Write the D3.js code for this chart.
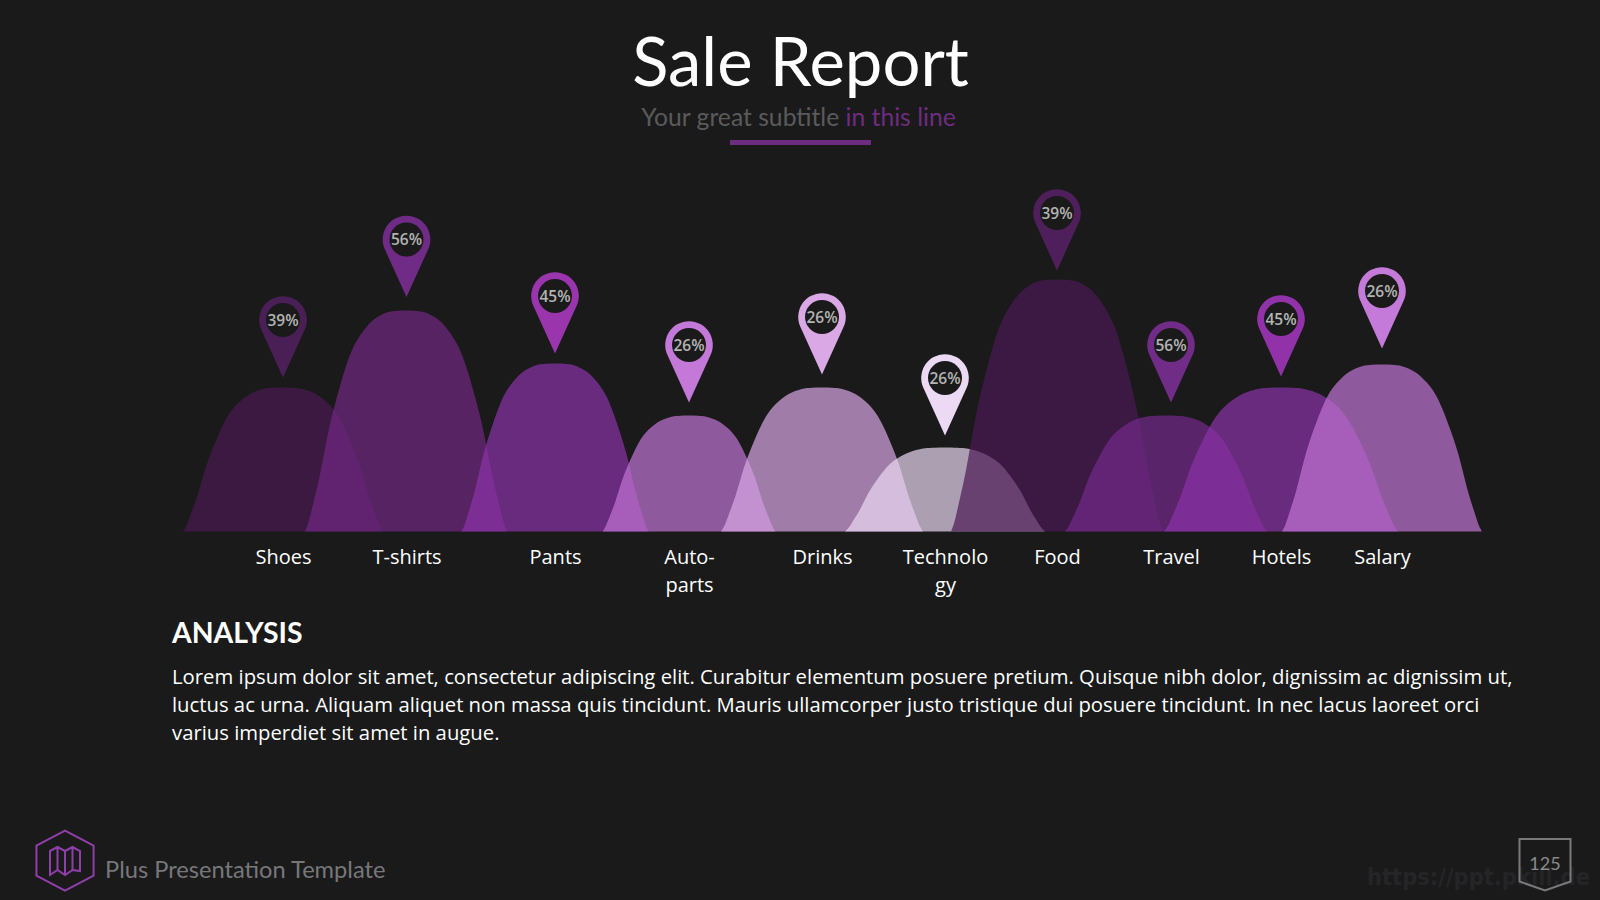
<!DOCTYPE html>
<html>
<head>
<meta charset="utf-8">
<script src="https://cdn.jsdelivr.net/npm/d3@7"></script>
<style>
  html, body { margin: 0; padding: 0; background: #1a1a1a; }
  svg { display: block; }
</style>
</head>
<body>
<svg id="slide" width="1600" height="900"></svg>
<script>
// Sales categories, left to right
const categories = ["Shoes", "T-shirts", "Pants", "Auto-parts", "Drinks", "Technology", "Food", "Travel", "Hotels", "Salary"];
const categoryLines = [["Shoes"], ["T-shirts"], ["Pants"], ["Auto-", "parts"], ["Drinks"], ["Technolo", "gy"], ["Food"], ["Travel"], ["Hotels"], ["Salary"]];

// Hump height, hump centre and half-width, in chart units
const humpHeights = [144, 221, 168, 116, 144, 84, 252, 116, 144, 167];
const humpCenters = [100, 223, 372, 506, 639, 762, 874, 983, 1098, 1199];
const humpSpreads = [100, 101, 93.5, 86.5, 101, 100, 106, 101, 117, 100];
const humpColors = ["#4a1a53", "#722883", "#8c33a9", "#c275d6", "#d9a8e5", "#ecd9f3", "#4a1a56", "#752a8b", "#8c33a9", "#c275d6"];

// Marker position (column centre) and the height of each marker's tip
const markerCenters = [100, 223.5, 372, 506, 639, 762, 874, 988, 1098, 1199];
const markerTips = [154, 234.5, 178, 129, 157, 96, 261, 129, 155, 183];
const markerLabels = ["39%", "56%", "45%", "26%", "26%", "26%", "39%", "56%", "45%", "26%"];
const markerColors = ["#4a1f56", "#6f2b85", "#9a35ae", "#c478d8", "#d9a8e5", "#ecd9f3", "#4e1f5b", "#702c86", "#9232a8", "#c47ad8"];

// Normalised outline of one hump: distance from centre vs. share of height
const humpProfileX = [-1, -0.97, -0.93, -0.86, -0.76, -0.68, -0.6, -0.54, -0.45, -0.33, -0.2, -0.1, 0, 0.1, 0.2, 0.33, 0.45, 0.54, 0.6, 0.68, 0.76, 0.86, 0.93, 0.97, 1];
const humpProfileY = [0, 0.035, 0.105, 0.24, 0.47, 0.615, 0.74, 0.815, 0.89, 0.955, 0.99, 0.998, 1, 0.998, 0.99, 0.955, 0.89, 0.815, 0.74, 0.615, 0.47, 0.24, 0.105, 0.035, 0];

const bodyLines = [
  "Lorem ipsum dolor sit amet, consectetur adipiscing elit. Curabitur elementum posuere pretium. Quisque nibh dolor, dignissim ac dignissim ut,",
  "luctus ac urna. Aliquam aliquet non massa quis tincidunt. Mauris ullamcorper justo tristique dui posuere tincidunt. In nec lacus laoreet orci",
  "varius imperdiet sit amet in augue."
];

const svg = d3.select("#slide");
const sans = "Lato, 'Open Sans', sans-serif";
const labelFont = "'Open Sans', 'Noto Sans', sans-serif";

svg.append("rect").attr("width", 1600).attr("height", 900).attr("fill", "#1a1a1a");

// Header
svg.append("text").attr("x", 800.5).attr("y", 86).attr("text-anchor", "middle")
  .attr("font-family", sans).attr("font-size", 67).attr("fill", "#ffffff").text("Sale Report");
const sub = svg.append("text").attr("x", 798.5).attr("y", 125.5).attr("text-anchor", "middle")
  .attr("font-family", sans).attr("font-size", 24.7);
sub.append("tspan").attr("fill", "#5a5a5c").text("Your great subtitle ");
sub.append("tspan").attr("fill", "#6e2c80").text("in this line");
svg.append("rect").attr("x", 730).attr("y", 140).attr("width", 141).attr("height", 5).attr("fill", "#6e2c80");

// Chart scales
const x = d3.scaleLinear().domain([0, 1300]).range([183, 1483]);
const y = d3.scaleLinear().domain([0, 252]).range([531.5, 279.5]);

// Humps, drawn left to right so later ones sit on top
const profile = d3.range(humpProfileX.length);
const hump = (i) => d3.area()
  .x(k => x(humpCenters[i] + humpProfileX[k] * humpSpreads[i]))
  .y0(y(0))
  .y1(k => y(humpHeights[i] * humpProfileY[k]))
  .curve(d3.curveCatmullRom.alpha(0.5))(profile);

svg.append("g").selectAll("path").data(categories).join("path")
  .attr("d", (d, i) => hump(i))
  .attr("fill", (d, i) => humpColors[i])
  .attr("fill-opacity", 0.7);

// Category axis with wrapped labels
const axis = svg.append("g").attr("transform", `translate(0,${y(0)})`)
  .call(d3.axisBottom(x).tickValues(markerCenters).tickSize(0).tickFormat(""));
axis.select(".domain").remove();
axis.selectAll(".tick text").attr("y", 0).attr("dy", 0)
  .attr("font-family", labelFont).attr("font-size", 20).attr("fill", "#ffffff")
  .each(function (d, i) {
    d3.select(this).selectAll("tspan").data(categoryLines[i]).join("tspan")
      .attr("x", 0).attr("y", (t, j) => 32.5 + j * 28).text(t => t);
  });

// Map-pin markers: head ring plus tapered point, with a dark hole for the label
const headRadius = 23.8, holeRadius = 17, tipDrop = 57.5;
const pin = svg.append("g").selectAll("g").data(categories).join("g")
  .attr("transform", (d, i) => `translate(${x(markerCenters[i])},${y(markerTips[i]) - tipDrop})`);
pin.append("path")
  .attr("d", () => {
    const r = headRadius, a = Math.asin(r / tipDrop);
    const tx = r * Math.cos(a), ty = r * Math.sin(a);
    return `M0,${tipDrop}L${-tx},${ty}A${r},${r} 0 1 1 ${tx},${ty}Z`;
  })
  .attr("fill", (d, i) => markerColors[i]);
pin.append("circle").attr("r", holeRadius).attr("fill", "#1a1a1a");
pin.append("text").attr("text-anchor", "middle").attr("y", 5.5)
  .attr("font-family", "'Open Sans', sans-serif").attr("font-weight", 600).attr("font-size", 15.5)
  .attr("fill", "#b4b4b4").text((d, i) => markerLabels[i]);

// Analysis copy
svg.append("text").attr("x", 172).attr("y", 643)
  .attr("font-family", sans).attr("font-weight", 700).attr("font-size", 28.4).attr("fill", "#ffffff").text("ANALYSIS");
svg.append("g").selectAll("text").data(bodyLines).join("text")
  .attr("x", 172).attr("y", (d, i) => 684 + i * 28)
  .attr("font-family", labelFont).attr("font-size", 20.29).attr("fill", "#ffffff").text(d => d);

// Footer badge with folded-map glyph
const hexagon = d3.range(6).map(i => {
  const a = Math.PI / 3 * i - Math.PI / 2;
  return [65 + 33 * Math.cos(a), 860.7 + 30 * Math.sin(a)];
});
svg.append("path").attr("d", d3.line().curve(d3.curveLinearClosed)(hexagon))
  .attr("fill", "none").attr("stroke", "#8f3faa").attr("stroke-width", 2);
svg.append("path").attr("d", "M50,851L57.5,847L65,851L72.5,847L80,851V871L72.5,870L65,875L57.5,870L50,875ZM57.5,847V870M65,851V875M72.5,847V870")
  .attr("fill", "none").attr("stroke", "#8f3faa").attr("stroke-width", 2);
svg.append("text").attr("x", 105).attr("y", 878)
  .attr("font-family", sans).attr("font-size", 23.65).attr("fill", "#77777a").text("Plus Presentation Template");

// Site mark and page number shield
svg.append("text").attr("x", 1367).attr("y", 885)
  .attr("font-family", "'DejaVu Sans', sans-serif").attr("font-weight", 700).attr("font-size", 23)
  .attr("textLength", 223).attr("lengthAdjust", "spacingAndGlyphs")
  .attr("fill", "#252527").text("https://ppt.pkill.de");
svg.append("path").attr("d", "M1519.5,839H1570.5V881.5L1545,890.5L1519.5,881.5Z")
  .attr("fill", "none").attr("stroke", "#7a7a7c").attr("stroke-width", 2);
svg.append("text").attr("x", 1545).attr("y", 870).attr("text-anchor", "middle")
  .attr("font-family", sans).attr("font-size", 18).attr("fill", "#8a8a8c").text("125");
</script>
</body>
</html>
